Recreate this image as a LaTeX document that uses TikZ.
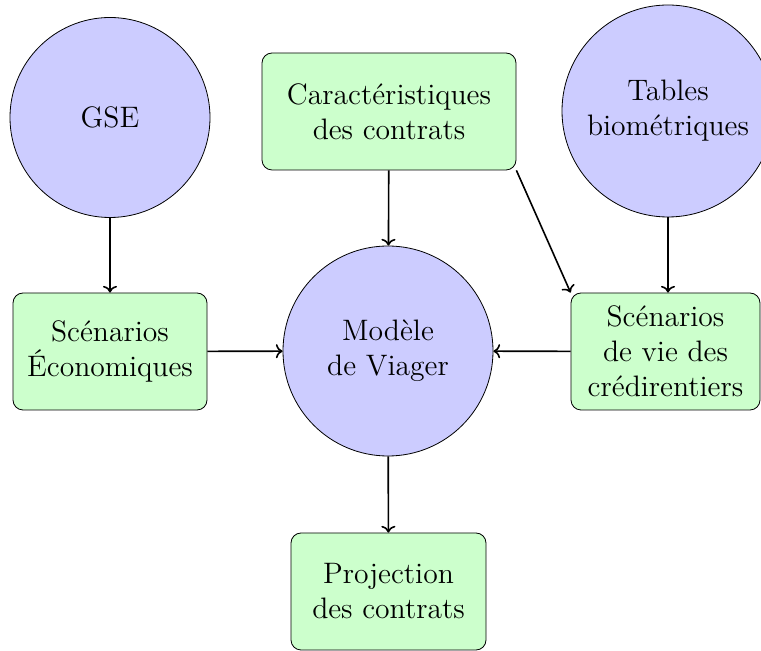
\documentclass[tikz,border=0pt]{standalone}
\usetikzlibrary{arrows.meta}
\definecolor{circfill}{RGB}{204,204,255}
\definecolor{boxfill}{RGB}{204,255,204}
\begin{document}
\begin{tikzpicture}[x=0.5pt,y=-0.5pt,
  txt/.style={font=\fontsize{14.8}{17.5}\selectfont, align=center, inner sep=0pt},
  circ/.style={txt, circle, draw=black, fill=circfill},
  rbox/.style={txt, rectangle, rounded corners=5pt, draw=black, fill=boxfill, minimum height=58.5pt},
  arr/.style={->, thick}]
\useasboundingbox (0,0) rectangle (761,651);
\node[circ, minimum size=100pt] (gse) at (110,117.5) {GSE};
\node[rbox, minimum width=127pt] (car) at (389,111.5) {Caractéristiques\\des contrats};
\node[circ, minimum size=106pt] (tab) at (668,111) {Tables\\biométriques};
\node[rbox, minimum width=97pt] (eco) at (110,351.5) {Scénarios\\Économiques};
\node[circ, minimum size=105pt] (mod) at (388,351) {Modèle\\de Viager};
\node[rbox, minimum width=94.5pt] (vie) at (665.5,351.5) {Scénarios\\de vie des\\crédirentiers};
\node[rbox, minimum width=97.5pt] (proj) at (388.5,591.5) {Projection\\des contrats};
\draw[arr] (gse) -- (eco);
\draw[arr] (car) -- (mod);
\draw[arr] (tab.south) -- (tab.south |- vie.north);
\draw[arr] (car.south east) -- (vie.north west);
\draw[arr] (eco) -- (mod);
\draw[arr] (vie) -- (mod);
\draw[arr] (mod) -- (proj);
\end{tikzpicture}
\end{document}
